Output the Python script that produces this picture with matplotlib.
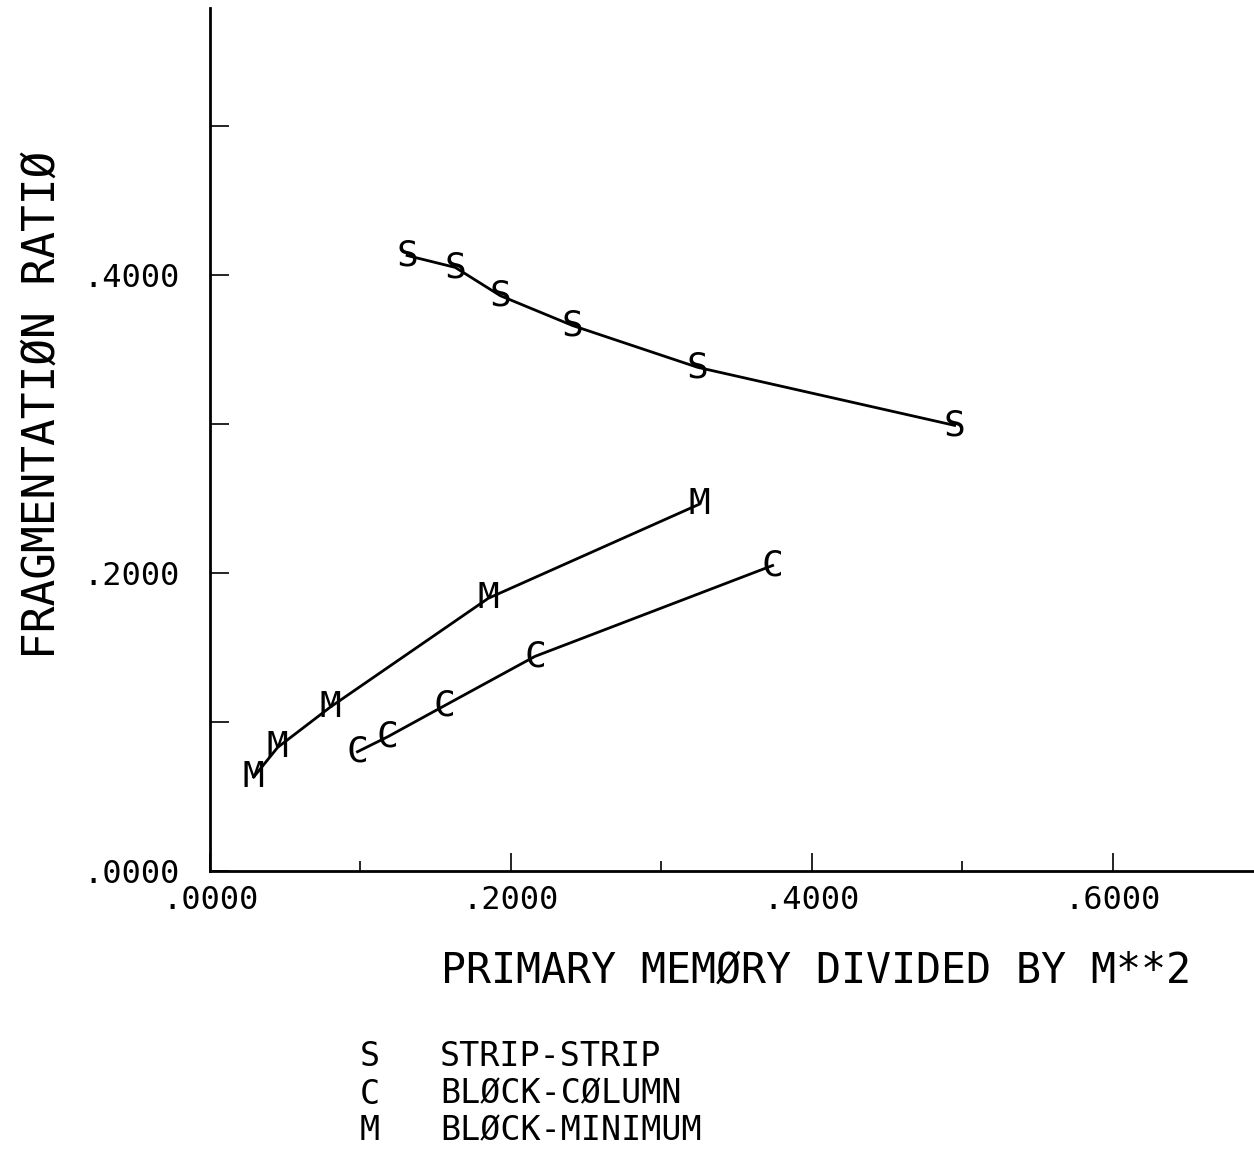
import numpy as np
import matplotlib
matplotlib.use("Agg")
import matplotlib.pyplot as plt
from matplotlib.ticker import MultipleLocator, FuncFormatter

# strip-strip
s_x = [0.131, 0.163, 0.193, 0.241, 0.324, 0.495]
s_y = [0.413, 0.405, 0.386, 0.366, 0.338, 0.299]
# block-column
c_x = [0.098, 0.118, 0.156, 0.216, 0.374]
c_y = [0.080, 0.090, 0.111, 0.144, 0.205]
# block-minimum
m_x = [0.029, 0.045, 0.080, 0.185, 0.325]
m_y = [0.063, 0.083, 0.110, 0.183, 0.246]

legend_keys = ['S', 'C', 'M']
legend_names = ['STRIP-STRIP', 'BLØCK-CØLUMN', 'BLØCK-MINIMUM']

plt.rcParams['font.family'] = ['DejaVu Sans Mono']

fig = plt.figure(figsize=(12.54, 11.74), dpi=100)
ax = fig.add_axes([0.1675, 0.2581, 0.8325, 0.735])

for xs, ys, key in [(s_x, s_y, 'S'), (c_x, c_y, 'C'), (m_x, m_y, 'M')]:
    ax.plot(xs, ys, color='black', lw=2)
    for x, y in zip(xs, ys):
        ax.text(x, y, key, ha='center', va='center', fontsize=26, color='black')

ax.set_xlim(0, 0.694)
ax.set_ylim(0, 0.579)

for side in ['top', 'right']:
    ax.spines[side].set_visible(False)
for side in ['left', 'bottom']:
    ax.spines[side].set_linewidth(2)

fmt = FuncFormatter(lambda v, _: f'{v:.4f}'.lstrip('0'))
ax.xaxis.set_major_locator(MultipleLocator(0.2))
ax.xaxis.set_minor_locator(MultipleLocator(0.1))
ax.yaxis.set_major_locator(MultipleLocator(0.2))
ax.yaxis.set_minor_locator(MultipleLocator(0.1))
ax.xaxis.set_major_formatter(fmt)
ax.yaxis.set_major_formatter(fmt)

ax.tick_params(axis='x', which='major', direction='in', length=13, width=1.2,
               labelsize=23, pad=10)
ax.tick_params(axis='x', which='minor', direction='in', length=7, width=1.2)
ax.tick_params(axis='y', which='both', direction='in', length=14, width=1.2,
               labelsize=23, pad=22)

ax.set_xlabel('PRIMARY MEMØRY DIVIDED BY M**2', fontsize=30, labelpad=24,
              x=0.58)
ax.set_ylabel('FRAGMENTATIØN RATIØ', fontsize=32, labelpad=14, y=0.54)

for i, (k, name) in enumerate(zip(legend_keys, legend_names)):
    yy = 1 - (1057 + i * 37) / 1174
    fig.text(370 / 1254, yy, k, fontsize=24, ha='center', va='center')
    fig.text(440 / 1254, yy, name, fontsize=24, ha='left', va='center')

fig.savefig('out.png', dpi=100)
